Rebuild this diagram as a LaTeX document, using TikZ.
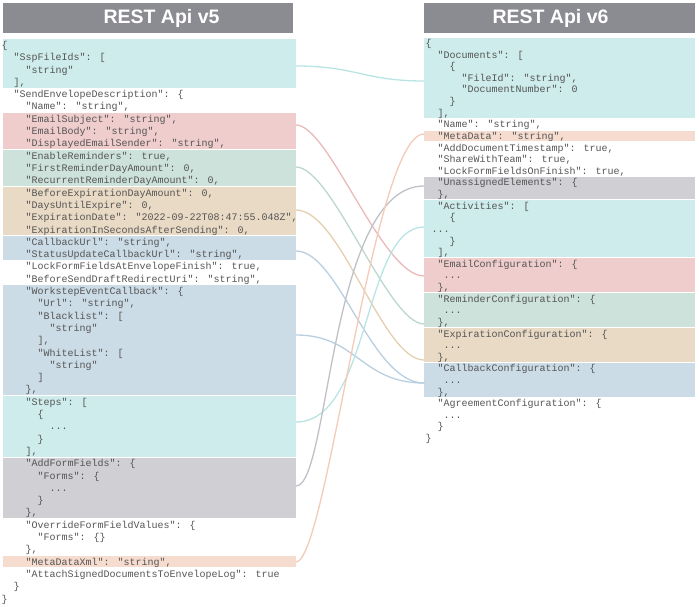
\documentclass[tikz,border=0pt]{standalone}
\usepackage{fontspec}
\setmainfont{Liberation Sans}
\newfontfamily\jmono{Liberation Mono}
\definecolor{hdrgray}{HTML}{8B8B92}
\definecolor{txt}{HTML}{555555}
\definecolor{bCyan}{HTML}{CDECEB}
\definecolor{bRed}{HTML}{F0CDCD}
\definecolor{bGreen}{HTML}{CDE2DA}
\definecolor{bTan}{HTML}{E8DAC4}
\definecolor{bBlue}{HTML}{CCDCE7}
\definecolor{bGray}{HTML}{CFCFD4}
\definecolor{bSalmon}{HTML}{F6DCCF}
\definecolor{cCyan}{HTML}{B8E4E4}
\definecolor{cRed}{HTML}{EBB9B9}
\definecolor{cGreen}{HTML}{BCD7CD}
\definecolor{cTan}{HTML}{E4D0B0}
\definecolor{cBlue}{HTML}{B9CFE0}
\definecolor{cGray}{HTML}{C0C0C8}
\definecolor{cSalmon}{HTML}{F3CBB8}
\newcommand\Ltxt[4]{\node[lt] (#1) at ({1.5+6*#2},{48.5+12.3*#3}) {#4};}
\newcommand\Rtxt[4]{\node[lt] (#1) at ({425.5+6*#2},{46.5+11.62*#3}) {#4};}
\newcommand\Lband[3]{\fill[#1] (3,{45+12.3*#2-5.65}) rectangle (296,{45+12.3*#3+5.65});}
\newcommand\Rband[3]{\fill[#1] (424,{43+11.62*#2-5.31}) rectangle (695,{43+11.62*#3+5.31});}
\begin{document}
\begin{tikzpicture}[x=1pt,y=-1pt,
  lt/.style={anchor=base west, inner sep=0pt, font=\jmono\fontsize{10}{12}\selectfont, text=txt},
  hdrtxt/.style={inner sep=0pt, text=white, font=\fontsize{19.5}{22}\selectfont\bfseries},
  conn/.style={line width=1.3pt, line cap=round}]
\useasboundingbox (0,0) rectangle (699,607);
% headers
\fill[hdrgray] (3,3) rectangle (293,33);
\node[hdrtxt] (h5) at (161.5,18) {REST Api v5};
\fill[hdrgray] (424,3) rectangle (695,33);
\node[hdrtxt] (h6) at (550.5,18) {REST Api v6};
% left bands
\Lband{bCyan}{0}{3}
\Lband{bRed}{6}{8}
\Lband{bGreen}{9}{11}
\Lband{bTan}{12}{15}
\Lband{bBlue}{16}{17}
\Lband{bBlue}{20}{28}
\Lband{bCyan}{29}{33}
\Lband{bGray}{34}{38}
\Lband{bSalmon}{42}{42}
% right bands
\Rband{bCyan}{0}{6}
\Rband{bSalmon}{8}{8}
\Rband{bGray}{12}{13}
\Rband{bCyan}{14}{18}
\Rband{bRed}{19}{21}
\Rband{bGreen}{22}{24}
\Rband{bTan}{25}{27}
\Rband{bBlue}{28}{30}
% left text
\Ltxt{l0}{0}{0}{\{}
\Ltxt{l1}{2}{1}{"SspFileIds": [}
\Ltxt{l2}{4}{2}{"string"}
\Ltxt{l3}{2}{3}{],}
\Ltxt{l4}{2}{4}{"SendEnvelopeDescription": \{}
\Ltxt{l5}{4}{5}{"Name": "string",}
\Ltxt{l6}{4}{6}{"EmailSubject": "string",}
\Ltxt{l7}{4}{7}{"EmailBody": "string",}
\Ltxt{l8}{4}{8}{"DisplayedEmailSender": "string",}
\Ltxt{l9}{4}{9}{"EnableReminders": true,}
\Ltxt{l10}{4}{10}{"FirstReminderDayAmount": 0,}
\Ltxt{l11}{4}{11}{"RecurrentReminderDayAmount": 0,}
\Ltxt{l12}{4}{12}{"BeforeExpirationDayAmount": 0,}
\Ltxt{l13}{4}{13}{"DaysUntilExpire": 0,}
\Ltxt{l14}{4}{14}{"ExpirationDate": "2022-09-22T08:47:55.048Z",}
\Ltxt{l15}{4}{15}{"ExpirationInSecondsAfterSending": 0,}
\Ltxt{l16}{4}{16}{"CallbackUrl": "string",}
\Ltxt{l17}{4}{17}{"StatusUpdateCallbackUrl": "string",}
\Ltxt{l18}{4}{18}{"LockFormFieldsAtEnvelopeFinish": true,}
\Ltxt{l19}{4}{19}{"BeforeSendDraftRedirectUri": "string",}
\Ltxt{l20}{4}{20}{"WorkstepEventCallback": \{}
\Ltxt{l21}{6}{21}{"Url": "string",}
\Ltxt{l22}{6}{22}{"Blacklist": [}
\Ltxt{l23}{8}{23}{"string"}
\Ltxt{l24}{6}{24}{],}
\Ltxt{l25}{6}{25}{"WhiteList": [}
\Ltxt{l26}{8}{26}{"string"}
\Ltxt{l27}{6}{27}{]}
\Ltxt{l28}{4}{28}{\},}
\Ltxt{l29}{4}{29}{"Steps": [}
\Ltxt{l30}{6}{30}{\{}
\Ltxt{l31}{8}{31}{...}
\Ltxt{l32}{6}{32}{\}}
\Ltxt{l33}{4}{33}{],}
\Ltxt{l34}{4}{34}{"AddFormFields": \{}
\Ltxt{l35}{6}{35}{"Forms": \{}
\Ltxt{l36}{8}{36}{...}
\Ltxt{l37}{6}{37}{\}}
\Ltxt{l38}{4}{38}{\},}
\Ltxt{l39}{4}{39}{"OverrideFormFieldValues": \{}
\Ltxt{l40}{6}{40}{"Forms": \{\}}
\Ltxt{l41}{4}{41}{\},}
\Ltxt{l42}{4}{42}{"MetaDataXml": "string",}
\Ltxt{l43}{4}{43}{"AttachSignedDocumentsToEnvelopeLog": true}
\Ltxt{l44}{2}{44}{\}}
\Ltxt{l45}{0}{45}{\}}
% right text
\Rtxt{r0}{0}{0}{\{}
\Rtxt{r1}{2}{1}{"Documents": [}
\Rtxt{r2}{4}{2}{\{}
\Rtxt{r3}{6}{3}{"FileId": "string",}
\Rtxt{r4}{6}{4}{"DocumentNumber": 0}
\Rtxt{r5}{4}{5}{\}}
\Rtxt{r6}{2}{6}{],}
\Rtxt{r7}{2}{7}{"Name": "string",}
\Rtxt{r8}{2}{8}{"MetaData": "string",}
\Rtxt{r9}{2}{9}{"AddDocumentTimestamp": true,}
\Rtxt{r10}{2}{10}{"ShareWithTeam": true,}
\Rtxt{r11}{2}{11}{"LockFormFieldsOnFinish": true,}
\Rtxt{r12}{2}{12}{"UnassignedElements": \{}
\Rtxt{r13}{2}{13}{\},}
\Rtxt{r14}{2}{14}{"Activities": [}
\Rtxt{r15}{4}{15}{\{}
\Rtxt{r16}{1}{16}{...}
\Rtxt{r17}{4}{17}{\}}
\Rtxt{r18}{2}{18}{],}
\Rtxt{r19}{2}{19}{"EmailConfiguration": \{}
\Rtxt{r20}{3}{20}{...}
\Rtxt{r21}{2}{21}{\},}
\Rtxt{r22}{2}{22}{"ReminderConfiguration": \{}
\Rtxt{r23}{3}{23}{...}
\Rtxt{r24}{2}{24}{\},}
\Rtxt{r25}{2}{25}{"ExpirationConfiguration": \{}
\Rtxt{r26}{3}{26}{...}
\Rtxt{r27}{2}{27}{\},}
\Rtxt{r28}{2}{28}{"CallbackConfiguration": \{}
\Rtxt{r29}{3}{29}{...}
\Rtxt{r30}{2}{30}{\},}
\Rtxt{r31}{2}{31}{"AgreementConfiguration": \{}
\Rtxt{r32}{3}{32}{...}
\Rtxt{r33}{2}{33}{\}}
\Rtxt{r34}{0}{34}{\}}
% connector end points
\coordinate (lSsp) at (296,66);   \coordinate (rDoc) at (424,81);
\coordinate (lEmail) at (296,125); \coordinate (rEmail) at (424,276);
\coordinate (lRem) at (296,167);  \coordinate (rRem) at (424,324);
\coordinate (lExp) at (296,210);  \coordinate (rExp) at (424,360);
\coordinate (lCb) at (296,251);   \coordinate (rCb) at (424,383);
\coordinate (lWs) at (296,335);
\coordinate (lSteps) at (296,422); \coordinate (rAct) at (424,227);
\coordinate (lForms) at (296,486); \coordinate (rUna) at (424,186);
\coordinate (lMeta) at (296,562);  \coordinate (rMeta) at (424,134);
% connectors
\draw[conn, cCyan] (lSsp) .. controls +(60,0) and +(-60,0) .. (rDoc);
\draw[conn, cRed] (lEmail) .. controls +(33,0) and +(-42,0) .. (rEmail);
\draw[conn, cGreen] (lRem) .. controls +(36,0) and +(-36,0) .. (rRem);
\draw[conn, cTan] (lExp) .. controls +(45,0) and +(-42,0) .. (rExp);
\draw[conn, cBlue] (lCb) .. controls +(43,0) and +(-53,0) .. (rCb);
\draw[conn, cBlue] (lWs) .. controls +(61,0) and +(-63,0) .. (rCb);
\draw[conn, cCyan] (lSteps) .. controls +(75,0) and +(-61,0) .. (rAct);
\draw[conn, cGray] (lForms) .. controls +(34,0) and +(-95,0) .. (rUna);
\draw[conn, cSalmon] (lMeta) .. controls +(31,0) and +(-51,0) .. (rMeta);
\end{tikzpicture}
\end{document}
